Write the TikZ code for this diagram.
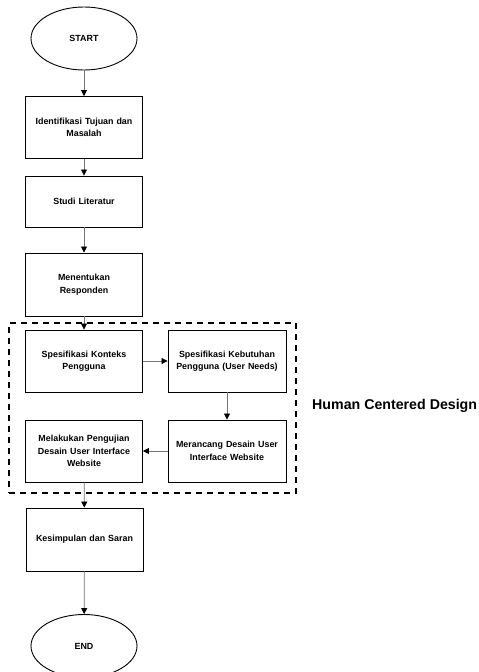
\documentclass[tikz,border=0pt]{standalone}
\usepackage{fontspec}
\setmainfont{Liberation Sans}
\usetikzlibrary{arrows.meta,shapes.geometric}
\tikzset{
  stepbox/.style={draw=black, line width=0.9pt, rectangle, minimum width=117pt, minimum height=62pt, text width=112pt, align=center, font=\bfseries\fontsize{8.9pt}{12.5pt}\selectfont, inner sep=0pt},
  term/.style={draw=black, line width=0.9pt, ellipse, minimum width=106pt, minimum height=63pt, font=\bfseries\fontsize{8.9pt}{12.5pt}\selectfont, inner sep=0pt},
  conn/.style={draw=black!55, line width=0.8pt, -{Triangle[length=6pt,width=6pt,black]}},
  group/.style={draw=black, line width=2pt, dash pattern=on 6pt off 5pt},
}
\begin{document}
\begin{tikzpicture}[x=1pt,y=-1pt]
\useasboundingbox (0,0) rectangle (479,672);
\clip (0,0) rectangle (479,672);
\fill[white] (0,0) rectangle (479,672);
\node[term] (start) at (84,38.5) {START};
\node[stepbox] (b1) at (84,127.5) {Identifikasi Tujuan dan\\Masalah};
\node[stepbox, minimum height=51pt] (b2) at (84,201.5) {Studi Literatur};
\node[stepbox, minimum height=63pt] (b3) at (84,284.5) {Menentukan\\Responden};
\node[stepbox] (b4) at (84,361) {Spesifikasi Konteks\\Pengguna};
\node[stepbox, minimum width=118pt] (b5) at (227,361) {Spesifikasi Kebutuhan\\Pengguna (User Needs)};
\node[stepbox, minimum width=118pt] (b6) at (227,451) {Merancang Desain User\\Interface Website};
\node[stepbox] (b7) at (84,451) {Melakukan Pengujian\\Desain User Interface\\Website};
\node[stepbox, minimum height=63pt] (b8) at (84.5,539.5) {Kesimpulan dan Saran};
\node[term] (end) at (84,646) {END};
\node[group, minimum width=287pt, minimum height=170pt] (hcd) at (152.5,408) {};
\node[font=\bfseries\fontsize{14.2pt}{16pt}\selectfont, anchor=west, inner sep=0pt] (lbl) at (312,406) {Human Centered Design};
\draw[conn] (start) -- (b1);
\draw[conn] (b1) -- (b2);
\draw[conn] (b2) -- (b3);
\draw[conn] (b3) -- (b4);
\draw[conn] (b4) -- (b5);
\draw[conn] (b5) -- (b6);
\draw[conn] (b6) -- (b7);
\draw[conn] (b7) -- (b8);
\draw[conn] (b8) -- (end);
\end{tikzpicture}
\end{document}
